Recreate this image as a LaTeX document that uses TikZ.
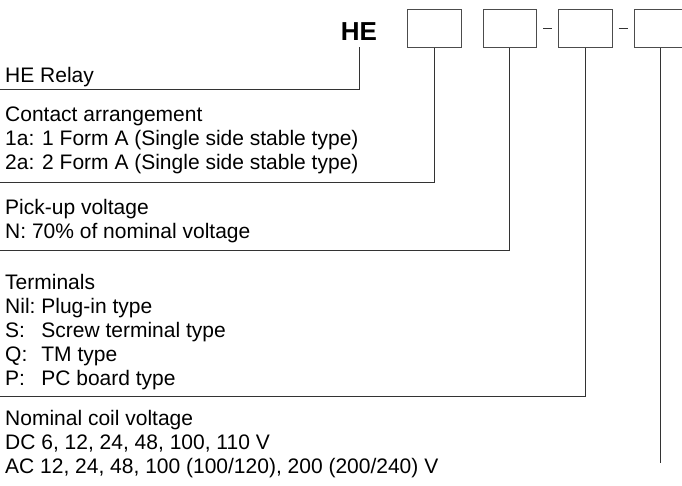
\documentclass[tikz,border=0pt]{standalone}
\usepackage{fontspec}
\setmainfont{Liberation Sans}
\usetikzlibrary{positioning}

\tikzset{
  codebox/.style={draw=black!70, line width=0.9pt, minimum width=53.5pt, minimum height=38pt, inner sep=0pt},
  lead/.style={draw=black!80, line width=0.9pt},
  caption/.style={anchor=base west, inner sep=0pt, align=left, font=\fontsize{21}{24}\selectfont},
}
\newcommand{\codekey}[1]{\makebox[1.444em][l]{#1}}

\begin{document}
\begin{tikzpicture}[x=1pt, y=-1pt]
  \useasboundingbox (0,0) rectangle (682,485);

  \node [font=\bfseries\fontsize{26}{26}\selectfont, anchor=base, inner sep=6.5pt] (he) at (359,40.7) {HE};
  \node [codebox] (box1) at (434.5,28.3) {};
  \node [codebox, right=21pt of box1] (box2) {};
  \node [codebox, right=21pt of box2] (box3) {};
  \node [codebox, right=21pt of box3] (box4) {};

  % dashes between the boxes
  \draw [lead, shorten <=6pt, shorten >=6pt] (box2) -- (box3);
  \draw [lead, shorten <=6pt, shorten >=6pt] (box3) -- (box4);

  % captions, placed by their last line
  \node [caption] (relay) at (5,82) {HE Relay};
  \node [caption] (contact) at (5,169) {Contact arrangement\\
    1a: 1 Form A (Single side stable type)\\
    2a: 2 Form A (Single side stable type)};
  \node [caption] (pickup) at (5,238) {Pick-up voltage\\
    N: 70\% of nominal voltage};
  \node [caption] (terminal) at (5,385) {Terminals\\
    \codekey{Nil:} Plug-in type\\
    \codekey{S:} Screw terminal type\\
    \codekey{Q:} TM type\\
    \codekey{P:} PC board type};
  \node [caption] (coil) at (5,473) {Nominal coil voltage\\
    DC 6, 12, 24, 48, 100, 110 V\\
    AC 12, 24, 48, 100 (100/120), 200 (200/240) V};

  \coordinate (relayend) at (0,89);
  \coordinate (contactend) at (0,182);
  \coordinate (pickupend) at (0,250);
  \coordinate (terminalend) at (0,396);
  \coordinate (coilend) at (0,463);

  % leads from the code down to the captions
  \draw [lead] (he.south) |- (relayend);
  \draw [lead] (box1.south) |- (contactend);
  \draw [lead] (box2.south) |- (pickupend);
  \draw [lead] (box3.south) |- (terminalend);
  \draw [lead] (box4.south) -- (box4.south |- coilend);

\end{tikzpicture}
\end{document}
